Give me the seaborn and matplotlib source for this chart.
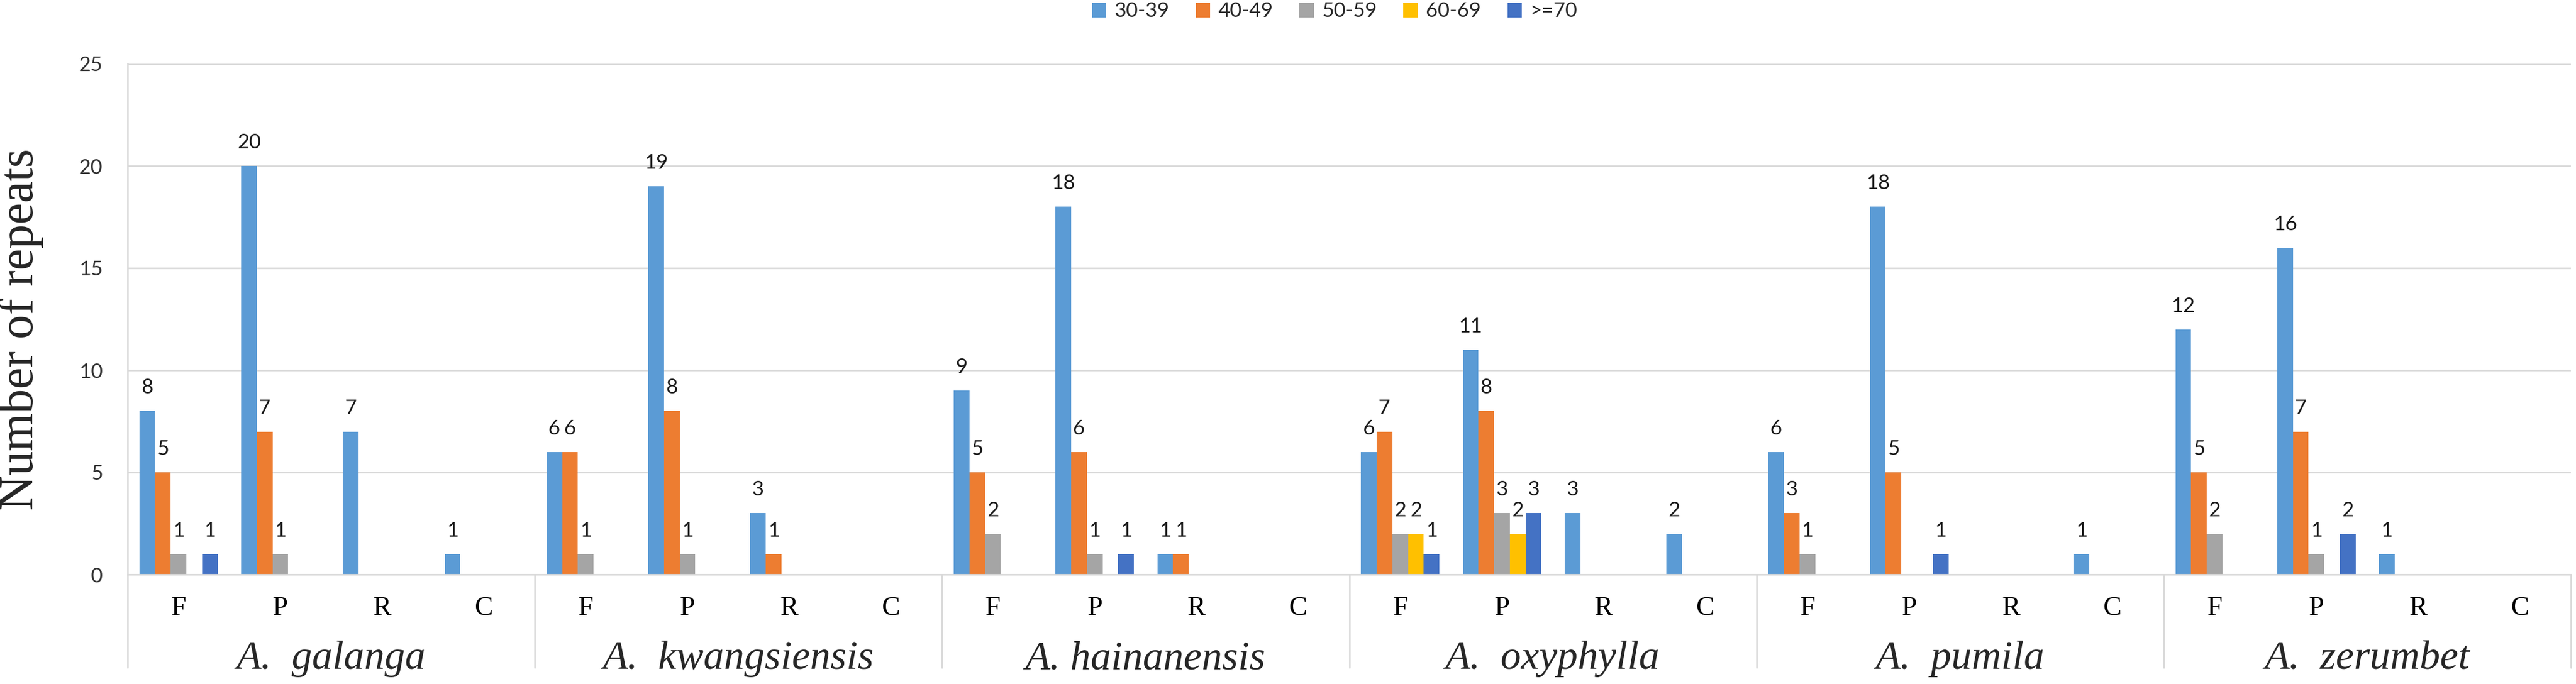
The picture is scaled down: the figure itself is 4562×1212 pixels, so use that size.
import pandas as pd
import numpy as np
import matplotlib
matplotlib.use("Agg")
import matplotlib.pyplot as plt
import seaborn as sns

# species, plant parts, repeat-length classes
species = ["A.  galanga", "A.  kwangsiensis", "A. hainanensis",
           "A.  oxyphylla", "A.  pumila", "A.  zerumbet"]
parts = ["F", "P", "R", "C"]
series = ["30-39", "40-49", "50-59", "60-69", ">=70"]
colors = ["#5B9BD5", "#ED7D31", "#A5A5A5", "#FFC000", "#4472C4"]

# values per series, ordered species x (F, P, R, C)
s30_39 = [8, 20, 7, 1,  6, 19, 3, 0,  9, 18, 1, 0,  6, 11, 3, 2,  6, 18, 0, 1,  12, 16, 1, 0]
s40_49 = [5, 7, 0, 0,   6, 8, 1, 0,   5, 6, 1, 0,   7, 8, 0, 0,   3, 5, 0, 0,   5, 7, 0, 0]
s50_59 = [1, 1, 0, 0,   1, 1, 0, 0,   2, 1, 0, 0,   2, 3, 0, 0,   1, 0, 0, 0,   2, 1, 0, 0]
s60_69 = [0, 0, 0, 0,   0, 0, 0, 0,   0, 0, 0, 0,   2, 2, 0, 0,   0, 0, 0, 0,   0, 0, 0, 0]
s70    = [1, 0, 0, 0,   0, 0, 0, 0,   0, 1, 0, 0,   1, 3, 0, 0,   0, 1, 0, 0,   0, 2, 0, 0]

slots = [f"{s}|{p}" for s in species for p in parts]
rows = []
for name, vals in zip(series, [s30_39, s40_49, s50_59, s60_69, s70]):
    for slot, v in zip(slots, vals):
        rows.append({"slot": slot, "series": name, "count": v})
df = pd.DataFrame(rows)

sns.set_style("white")
plt.rcParams["font.family"] = ["Lato", "DejaVu Sans"]

W, H = 4562, 1212
fig = plt.figure(figsize=(W / 100, H / 100), dpi=100)
left, right, top, base = 226, 4553, 113, 1018
ax = fig.add_axes([left / W, (H - base) / H, (right - left) / W, (base - top) / H])

sns.barplot(data=df, x="slot", y="count", hue="series", order=slots,
            hue_order=series, palette=colors, saturation=1, width=0.77,
            linewidth=0, ax=ax)

grid_c = "#D9D9D9"
ax.set_ylim(0, 25)
ax.set_xlim(-0.5, len(slots) - 0.5)
ax.set_yticks(range(0, 26, 5))
ax.yaxis.grid(True, color=grid_c, lw=2)
ax.set_axisbelow(True)
for sp in ["top", "right"]:
    ax.spines[sp].set_visible(False)
for sp in ["left", "bottom"]:
    ax.spines[sp].set_color(grid_c)
    ax.spines[sp].set_linewidth(2)
ax.tick_params(axis="y", length=12, width=2, color=grid_c, pad=20,
               labelsize=26, labelcolor="#333333")

# category labels F/P/R/C
ax.set_xticks(range(len(slots)))
ax.set_xticklabels(parts * len(species), family="Liberation Serif", fontsize=35)
ax.tick_params(axis="x", length=0, pad=27, labelcolor="black")
ax.set_xlabel("")

# data labels, skipping empty bars
for cont in ax.containers:
    labs = [str(int(v)) if v > 0 else "" for v in cont.datavalues]
    ax.bar_label(cont, labels=labs, padding=18, fontsize=26, color="#1a1a1a")

# species dividers and names under the axis
xt = ax.get_xaxis_transform()
span = (1183 - base) / (base - top)
for i in range(len(species) + 1):
    xb = i * len(parts) - 0.5
    ax.plot([xb, xb], [0, -span], transform=xt, color=grid_c, lw=2, clip_on=False)
for i, name in enumerate(species):
    ax.text(i * len(parts) + 1.5, -(1185 - base) / (base - top), name,
            transform=xt, ha="center", va="baseline", fontsize=52,
            family="Liberation Serif", style="italic")

ax.set_ylabel("Number of repeats", family="Liberation Serif", fontsize=62)
ax.yaxis.set_label_coords((37 - left) / (right - left), 0.48)
ax.yaxis.label.set_va("center")

sns.move_legend(ax, "center", bbox_to_anchor=(0.494, 1 + (top - 20) / (base - top)),
                ncol=5, frameon=False, title=None, fontsize=26,
                handlelength=0.7, handleheight=0.7, handletextpad=0.4,
                columnspacing=1.3)

fig.savefig("out.png", dpi=100)
